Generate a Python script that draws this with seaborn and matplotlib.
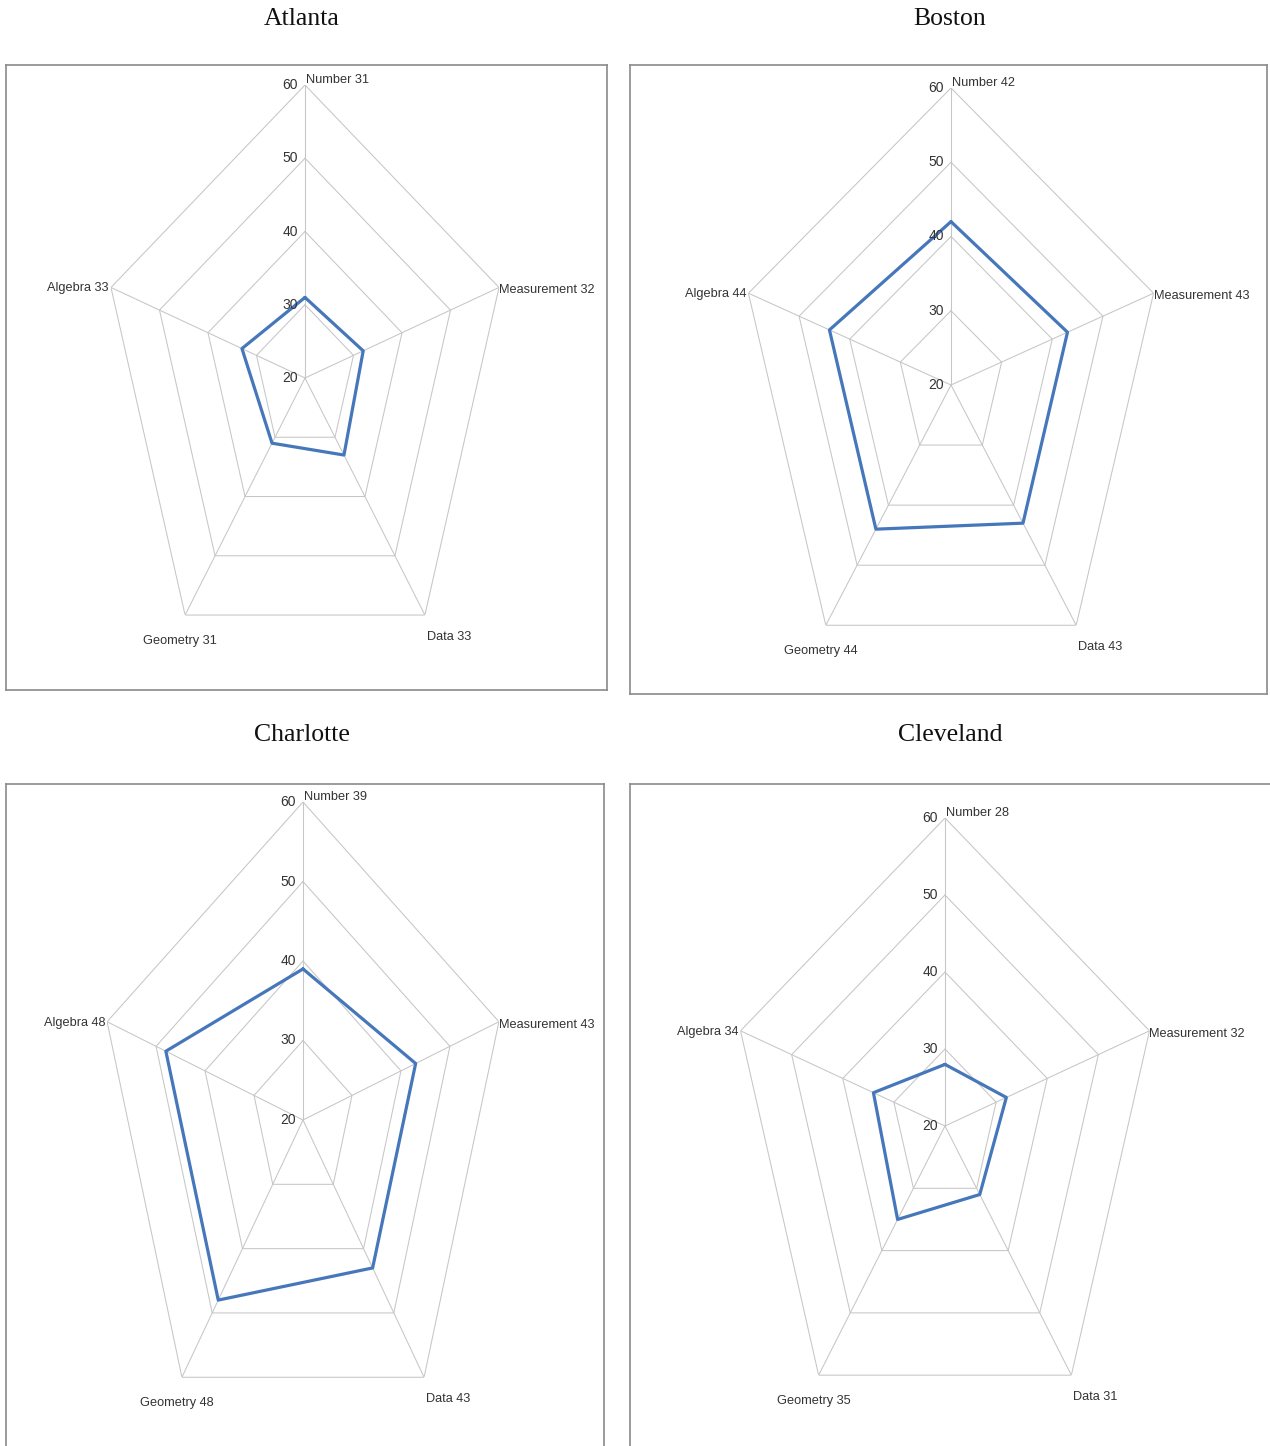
import numpy as np
import matplotlib
matplotlib.use("Agg")
import matplotlib.pyplot as plt
from matplotlib import font_manager
import seaborn as sns

# scores per city
categories = ["Number", "Measurement", "Data", "Geometry", "Algebra"]
cities = ["Atlanta", "Boston", "Charlotte", "Cleveland"]
atlanta = [31, 32, 33, 31, 33]
boston = [42, 43, 43, 44, 44]
charlotte = [39, 43, 43, 48, 48]
cleveland = [28, 32, 31, 35, 34]
scores = [atlanta, boston, charlotte, cleveland]
rings = [30, 40, 50, 60]
tick_values = [20, 30, 40, 50, 60]
r_min, r_max = 20, 60

W, H = 1270, 1446
sns.set_style("white")
installed = {f.name for f in font_manager.fontManager.ttflist}
label_font = "Liberation Sans Narrow" if "Liberation Sans Narrow" in installed else "Liberation Sans"
plt.rcParams["font.family"] = [label_font, "DejaVu Sans"]

fig = plt.figure(figsize=(W / 100, H / 100), dpi=100)


def frac(left, top, right, bottom):
    # pixel box -> figure fraction rect
    return [left / W, (H - bottom) / H, (right - left) / W, (bottom - top) / H]


# layout in pixels: outer box, radar centre, horizontal / vertical radius, title position
panels = [
    dict(box=(6, 65, 607, 690), c=(305, 378), rx=204, ry=293, title=(302, 19)),
    dict(box=(630, 65, 1267, 694), c=(951, 385), rx=213, ry=297, title=(950, 19)),
    dict(box=(6, 784, 604, 1460), c=(303, 1120), rx=206, ry=318, title=(302, 735)),
    dict(box=(630, 784, 1280, 1460), c=(945, 1126), rx=215, ry=308, title=(950, 735)),
]

# label offsets (pixels) and alignment per category
label_style = {
    "Number": dict(off=(1, 5), ha="left", va="center"),
    "Measurement": dict(off=(0, -3), ha="left", va="center"),
    "Data": dict(off=(2, -22), ha="left", va="center"),
    "Geometry": dict(off=(-5, -26), ha="center", va="center"),
    "Algebra": dict(off=(-2, -1), ha="right", va="center"),
}

grid_color = "#c6c6c6"
line_color = "#4677bb"
theta = np.linspace(0, 2 * np.pi, len(categories), endpoint=False)
theta_closed = np.append(theta, theta[0])

for city, vals, p in zip(cities, scores, panels):
    box = fig.add_axes(frac(*p["box"]))
    box.set_xticks([])
    box.set_yticks([])
    for s in box.spines.values():
        s.set_color("#8a8a8a")
        s.set_linewidth(1.2)
    box.set_zorder(0)

    cx, cy = p["c"]
    ax = fig.add_axes(frac(cx - p["rx"], cy - p["ry"], cx + p["rx"], cy + p["ry"]),
                      projection="polar")
    ax.set_aspect("auto")
    ax.set_theta_offset(np.pi / 2)
    ax.set_theta_direction(-1)
    ax.patch.set_visible(False)
    ax.spines["polar"].set_visible(False)
    ax.grid(False)

    for r in rings:
        ax.plot(theta_closed, [r] * len(theta_closed), color=grid_color, lw=0.75, zorder=1)
    for t in theta:
        ax.plot([t, t], [r_min, r_max], color=grid_color, lw=0.75, zorder=1)

    closed = list(vals) + [vals[0]]
    sns.lineplot(x=theta_closed, y=closed, ax=ax, sort=False, estimator=None,
                 color=line_color, lw=2.3, zorder=3)
    ax.set_xlabel("")
    ax.set_ylabel("")
    ax.set_xticks([])
    ax.set_yticks([])
    ax.set_ylim(r_min, r_max)

    for v in tick_values:
        ax.annotate(str(v), xy=(0, v), xytext=(-7, 0), textcoords="offset pixels",
                    ha="right", va="center", fontsize=10, color="#333333")

    for t, cat, v in zip(theta, categories, vals):
        st = label_style[cat]
        ax.annotate(f"{cat} {v}", xy=(t, r_max), xytext=st["off"], textcoords="offset pixels",
                    ha=st["ha"], va=st["va"], fontsize=9.2, color="#333333",
                    annotation_clip=False)

    tx, ty = p["title"]
    fig.text(tx / W, 1 - ty / H, city, ha="center", va="center", fontsize=18.5,
             family="Liberation Serif", color="#111111")

fig.savefig("out.png", dpi=100)
